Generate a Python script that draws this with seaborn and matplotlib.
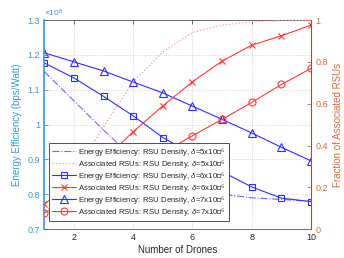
import numpy as np
import pandas as pd
import matplotlib
matplotlib.use('Agg')
import matplotlib.pyplot as plt
import seaborn as sns

# DADOS
drones = [1, 2, 3, 4, 5, 6, 7, 8, 9, 10]

# eficiencia energetica (x1e8 bps/Watt)
ee_d5 = [1.152, 1.068, 0.984, 0.905, 0.855, 0.82, 0.80, 0.79, 0.785, 0.78]
ee_d6 = [1.177, 1.134, 1.081, 1.025, 0.963, 0.915, 0.865, 0.821, 0.789, 0.779]
ee_d7 = [1.206, 1.180, 1.154, 1.122, 1.091, 1.053, 1.015, 0.976, 0.935, 0.896]

# fracao de RSUs associadas
ar_d5 = [0.07, 0.26, 0.49, 0.705, 0.848, 0.942, 0.977, 0.992, 0.997, 0.999]
ar_d6 = [0.122, 0.22, 0.33, 0.466, 0.59, 0.705, 0.804, 0.88, 0.925, 0.976]
ar_d7 = [0.078, 0.14, 0.21, 0.29, 0.366, 0.447, 0.525, 0.606, 0.692, 0.769]

xticks = [2, 4, 6, 8, 10]
yticks_left = [0.7, 0.8, 0.9, 1.0, 1.1, 1.2, 1.3]
ylabels_left = ['0.7', '0.8', '0.9', '1', '1.1', '1.2', '1.3']
yticks_right = [0, 0.2, 0.4, 0.6, 0.8, 1]
ylabels_right = ['0', '0.2', '0.4', '0.6', '0.8', '1']

# CORES
COR_ESQ = '#3a96d6'
COR_DIR = '#d9683a'
AZUL = '#3030ff'
AZUL_CLARO = '#6b6bff'
VERMELHO = '#ff3b3b'
ROSA = '#ff9a9a'

sns.set_style('white')
plt.rcParams['font.family'] = ['Liberation Sans', 'DejaVu Sans']
plt.rcParams['mathtext.fontset'] = 'custom'
plt.rcParams['mathtext.it'] = 'Liberation Sans:italic'
plt.rcParams['mathtext.rm'] = 'Liberation Sans'

fig = plt.figure(figsize=(3.44, 2.58), dpi=100)
ax1 = fig.add_axes([0.129, 0.112, 0.775, 0.81])
ax2 = ax1.twinx()

ms = 4.5
sns.lineplot(x=drones, y=ee_d5, ax=ax1, color=AZUL_CLARO, linestyle='-.', linewidth=0.8,
             label='Energy Efficiency: RSU Density, $\\delta$=5x10⁻⁶', legend=False)
sns.lineplot(x=drones, y=ee_d6, ax=ax1, color=AZUL, linewidth=0.8, marker='s',
             markersize=ms, markerfacecolor='none', markeredgecolor=AZUL, markeredgewidth=0.8,
             label='Energy Efficiency: RSU Density, $\\delta$=6x10⁻⁶', legend=False)
sns.lineplot(x=drones, y=ee_d7, ax=ax1, color=AZUL, linewidth=0.8, marker='^',
             markersize=ms + 1, markerfacecolor='none', markeredgecolor=AZUL, markeredgewidth=0.8,
             label='Energy Efficiency: RSU Density, $\\delta$=7x10⁻⁶', legend=False)

sns.lineplot(x=drones, y=ar_d5, ax=ax2, color=ROSA, linestyle=':', linewidth=0.9,
             label='Associated RSUs: RSU Density, $\\delta$=5x10⁻⁶', legend=False)
sns.lineplot(x=drones, y=ar_d6, ax=ax2, color=VERMELHO, linewidth=0.8, marker='x',
             markersize=ms, markeredgecolor=VERMELHO, markeredgewidth=0.8,
             label='Associated RSUs: RSU Density, $\\delta$=6x10⁻⁶', legend=False)
sns.lineplot(x=drones, y=ar_d7, ax=ax2, color=VERMELHO, linewidth=0.8, marker='o',
             markersize=ms + 0.5, markerfacecolor='none', markeredgecolor=VERMELHO, markeredgewidth=0.8,
             label='Associated RSUs: RSU Density, $\\delta$=7x10⁻⁶', legend=False)

# EIXOS
ax1.set_xlim(1, 10)
ax1.set_ylim(0.7, 1.3)
ax2.set_ylim(0, 1)
ax1.set_xticks(xticks)
ax1.set_xticklabels([str(t) for t in xticks], fontsize=6.5, color='#262626')
ax1.set_yticks(yticks_left)
ax1.set_yticklabels(ylabels_left, fontsize=6.5, color=COR_ESQ)
ax2.set_yticks(yticks_right)
ax2.set_yticklabels(ylabels_right, fontsize=6.5, color=COR_DIR)

ax1.grid(True, linestyle=':', color='#c8c8c8', linewidth=0.6)
ax1.tick_params(axis='both', direction='in', length=3, width=0.6, pad=3)
ax1.tick_params(axis='y', colors=COR_ESQ, labelcolor=COR_ESQ)
ax1.tick_params(axis='x', colors='#555555', labelcolor='#262626', top=True)
ax2.tick_params(axis='y', direction='in', length=3, width=0.6, colors=COR_DIR, labelcolor=COR_DIR, pad=3)

for s in ['top', 'bottom']:
    ax1.spines[s].set_color('#555555')
    ax1.spines[s].set_linewidth(0.6)
    ax2.spines[s].set_visible(False)
ax1.spines['left'].set_color(COR_ESQ)
ax1.spines['left'].set_linewidth(1.2)
ax1.spines['right'].set_visible(False)
ax2.spines['left'].set_visible(False)
ax2.spines['right'].set_color('#a0522d')
ax2.spines['right'].set_linewidth(0.8)

ax1.set_xlabel('Number of Drones', fontsize=7, color='#262626', labelpad=2)
ax1.set_ylabel('Energy Efficiency (bps/Watt)', fontsize=7, color=COR_ESQ, labelpad=4)
ax2.set_ylabel('Fraction of Associated RSUs', fontsize=7, color=COR_DIR, labelpad=4)
ax1.text(0.0, 1.005, r'$\times$10$^8$', transform=ax1.transAxes, fontsize=6,
         color=COR_ESQ, ha='left', va='bottom')

# LEGENDA
h1, l1 = ax1.get_legend_handles_labels()
h2, l2 = ax2.get_legend_handles_labels()
ordem_h = [h1[0], h2[0], h1[1], h2[1], h1[2], h2[2]]
ordem_l = [l1[0], l2[0], l1[1], l2[1], l1[2], l2[2]]
leg = ax2.legend(ordem_h, ordem_l, loc='lower left', bbox_to_anchor=(0.017, 0.038),
                 fontsize=5.6, frameon=True, fancybox=False, framealpha=1,
                 edgecolor='#333333', handlelength=3.1, handletextpad=0.3,
                 labelspacing=0.0, borderpad=0.4, borderaxespad=0)
leg.get_frame().set_linewidth(0.6)

plt.savefig('out.png', dpi=100)
